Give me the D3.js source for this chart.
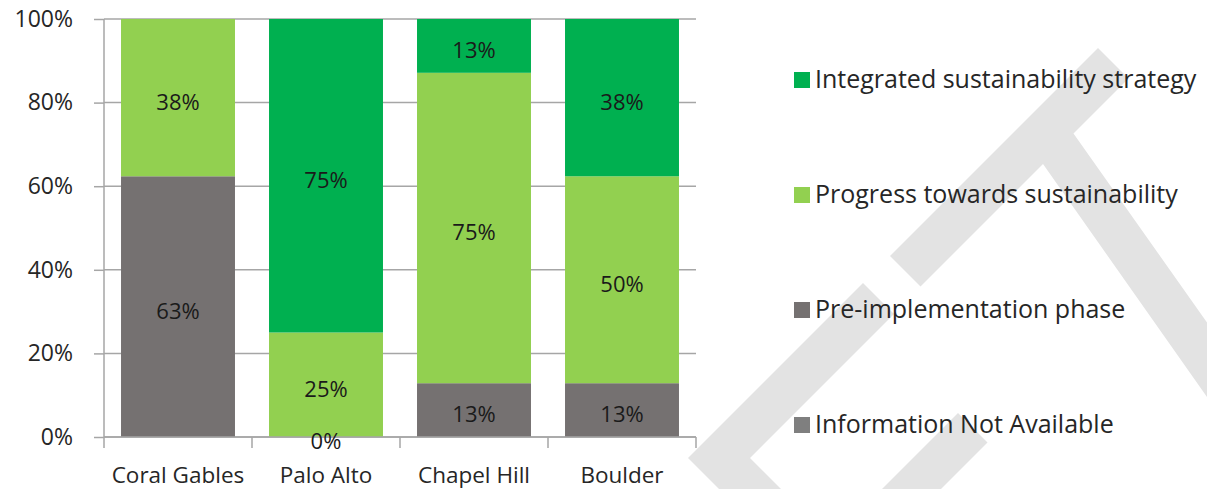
<!DOCTYPE html>
<html>
<head>
<meta charset="utf-8">
<script src="https://cdn.jsdelivr.net/npm/d3@7"></script>
<style>
  html, body { margin: 0; padding: 0; background: #ffffff; }
  svg { display: block; font-family: "Open Sans", "Noto Sans", sans-serif; }
</style>
</head>
<body>
<svg id="chart" width="1207" height="489"></svg>
<script>
// Stage of sustainability planning per city (share of assessed items, %)
const categories = ["Coral Gables", "Palo Alto", "Chapel Hill", "Boulder"];
const seriesNames = [
  "Information Not Available",
  "Pre-implementation phase",
  "Progress towards sustainability",
  "Integrated sustainability strategy"
];
const infoNotAvailable = [null, null, null, null];
const preImplementation = [63, 0, 13, 13];
const progressTowards = [38, 25, 75, 50];
const integratedStrategy = [null, 75, 13, 38];
const yTickValues = [0, 0.2, 0.4, 0.6, 0.8, 1];

const seriesValues = [infoNotAvailable, preImplementation, progressTowards, integratedStrategy];
const seriesColors = ["#7f7f7f", "#757171", "#92d050", "#00b050"];

// Light background ornament (decorative stripes)
const ornament = [
  [[688, 458], [863, 283], [894, 314], [750, 458], [781, 489], [719, 489]],
  [[958, 413], [987.5, 442.5], [941, 489], [882, 489]],
  [[890, 256], [1098, 48], [1128.5, 78.5], [1073.5, 133.5], [1207, 322.5], [1207, 397], [1043, 164], [920.5, 286.5]]
];

const svg = d3.select("#chart");
const textColor = "#262626";
const gridColor = "#a6a6a6";

svg.append("g").selectAll("polygon")
  .data(ornament)
  .join("polygon")
  .attr("points", d => d.map(p => p.join(",")).join(" "))
  .attr("fill", "#e3e3e3");

const plot = { left: 104, right: 696, top: 19, bottom: 437 };

const x = d3.scaleBand()
  .domain(categories)
  .range([plot.left, plot.right])
  .paddingInner(0.23)
  .paddingOuter(0.115);

const y = d3.scaleLinear().domain([0, 1]).range([plot.bottom, plot.top]);

// Horizontal gridlines
svg.append("g").selectAll("line")
  .data(yTickValues)
  .join("line")
  .attr("x1", plot.left).attr("x2", plot.right)
  .attr("y1", d => y(d)).attr("y2", d => y(d))
  .attr("stroke", gridColor).attr("stroke-width", 1.5);

// 100% stacked data
const keys = seriesNames.map((_, i) => "s" + i);
const rows = categories.map((c, ci) => {
  const r = { category: c };
  keys.forEach((k, si) => { r[k] = seriesValues[si][ci] ?? 0; });
  return r;
});
const stacked = d3.stack().keys(keys).offset(d3.stackOffsetExpand)(rows);

const barLayer = svg.append("g");
stacked.forEach((layer, si) => {
  barLayer.append("g")
    .attr("fill", seriesColors[si])
    .selectAll("rect")
    .data(layer)
    .join("rect")
    .attr("x", d => x(d.data.category))
    .attr("width", x.bandwidth())
    .attr("y", d => y(d[1]))
    .attr("height", d => y(d[0]) - y(d[1]));
});

// Y axis
const yAxis = d3.axisLeft(y)
  .tickValues(yTickValues)
  .tickFormat(d3.format(".0%"))
  .tickSize(10)
  .tickPadding(21);
const yG = svg.append("g").attr("transform", `translate(${plot.left},0)`).call(yAxis);
yG.select(".domain").attr("stroke", gridColor).attr("stroke-width", 1.5)
  .attr("d", `M0,${plot.top}V${plot.bottom}`);
yG.selectAll(".tick line").attr("stroke", gridColor).attr("stroke-width", 1.5);
yG.selectAll(".tick text").attr("fill", textColor).style("font-size", "23px")
  .style("font-family", "'Open Sans', sans-serif");

// X axis baseline and category separators
svg.append("line")
  .attr("x1", plot.left).attr("x2", plot.right)
  .attr("y1", plot.bottom).attr("y2", plot.bottom)
  .attr("stroke", gridColor).attr("stroke-width", 1.5);
const boundaries = d3.range(categories.length + 1).map(i => plot.left + i * x.step());
svg.append("g").selectAll("line")
  .data(boundaries)
  .join("line")
  .attr("x1", d => d).attr("x2", d => d)
  .attr("y1", plot.bottom).attr("y2", plot.bottom + 11)
  .attr("stroke", gridColor).attr("stroke-width", 1.5);

svg.append("g").selectAll("text")
  .data(categories)
  .join("text")
  .attr("x", d => x(d) + x.bandwidth() / 2)
  .attr("y", 483)
  .attr("text-anchor", "middle")
  .attr("fill", textColor)
  .style("font-size", "22.5px")
  .text(d => d);

// Data labels
const labelLayer = svg.append("g");
stacked.forEach((layer, si) => {
  labelLayer.append("g").selectAll("text")
    .data(layer.filter((d, ci) => seriesValues[si][ci] !== null))
    .join("text")
    .attr("x", d => x(d.data.category) + x.bandwidth() / 2)
    .attr("y", d => y((d[0] + d[1]) / 2))
    .attr("dy", "0.55em")
    .attr("text-anchor", "middle")
    .attr("fill", "#1a1a1a")
    .style("font-size", "22px")
    .text(d => seriesValues[si][categories.indexOf(d.data.category)] + "%");
});

// Legend (top entry is the top of the stack)
const legendOrder = seriesNames.map((n, i) => i).reverse();
const legendY = d3.scalePoint().domain(legendOrder).range([72, 417]);
const legend = svg.append("g").selectAll("g")
  .data(legendOrder)
  .join("g")
  .attr("transform", si => `translate(794,${legendY(si)})`);
legend.append("rect")
  .attr("width", 16).attr("height", 16)
  .attr("fill", si => seriesColors[si]);
legend.append("text")
  .attr("x", 21).attr("y", 16)
  .attr("fill", textColor)
  .style("font-size", "25px")
  .text(si => seriesNames[si]);
</script>
</body>
</html>
